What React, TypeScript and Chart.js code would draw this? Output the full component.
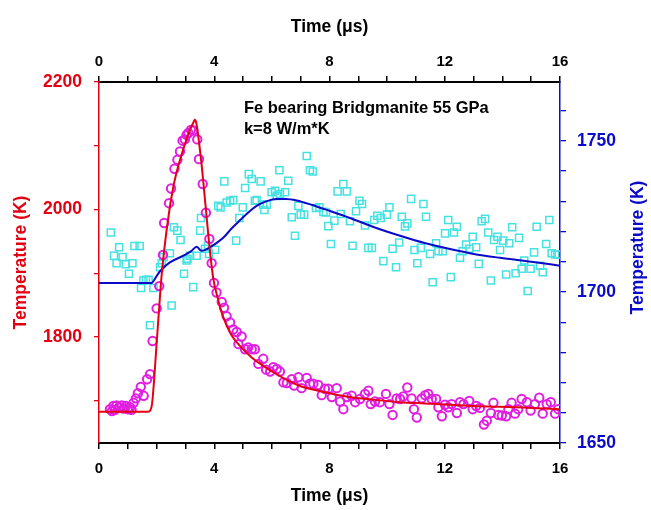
import React, { useEffect, useRef } from 'react';
import { Chart, registerables } from 'chart.js';

Chart.register(...registerables);

// Magenta circles (left axis, K)
const measTimes = [0.38,0.45,0.5,0.55,0.61,0.7,0.79,0.85,0.94,1.0,1.08,1.13,1.2,1.28,1.35,1.45,1.55,1.67,1.77,1.86,2.0,2.09,2.22,2.26,2.43,2.5,2.62,2.72,2.81,2.9,2.98,3.04,3.1,3.19,3.27,3.41,3.47,3.6,3.71,3.83,3.91,3.99,4.08,4.26,4.34,4.43,4.55,4.66,4.78,4.84,4.95,5.07,5.18,5.3,5.41,5.53,5.7,5.8,5.94,6.05,6.17,6.28,6.4,6.52,6.69,6.77,6.92,7.03,7.21,7.32,7.44,7.61,7.73,7.84,7.96,8.08,8.25,8.37,8.48,8.6,8.77,8.89,9.06,9.23,9.35,9.43,9.58,9.75,9.96,10.08,10.19,10.33,10.45,10.56,10.7,10.85,10.93,11.03,11.2,11.32,11.43,11.55,11.7,11.78,11.9,12.01,12.12,12.24,12.42,12.53,12.65,12.85,12.97,13.09,13.22,13.36,13.46,13.6,13.69,13.86,13.98,14.13,14.21,14.32,14.44,14.55,14.67,14.85,14.98,15.13,15.28,15.4,15.54,15.68,15.83,15.94];
const measValues = [1687,1684,1692,1686,1693,1690,1693,1688,1692,1687,1690,1686,1697,1704,1712,1722,1708,1734,1742,1794,1845,1880,1929,1979,2010,2033,2064,2078,2091,2108,2110,2117,2120,2125,2124,2110,2079,2040,1995,1954,1916,1885,1870,1855,1846,1833,1823,1812,1808,1789,1801,1781,1784,1781,1781,1758,1766,1749,1746,1753,1750,1746,1729,1728,1734,1724,1737,1720,1736,1727,1727,1725,1709,1719,1719,1706,1720,1699,1687,1706,1708,1698,1703,1711,1716,1695,1699,1698,1711,1695,1678,1704,1703,1707,1721,1704,1687,1674,1704,1709,1711,1703,1703,1690,1676,1694,1690,1695,1681,1698,1695,1700,1687,1692,1689,1663,1669,1681,1697,1678,1677,1676,1687,1697,1680,1687,1703,1698,1685,1695,1705,1680,1695,1698,1680,1687];

// Red fit curve (left axis, K)
const fitLeftTimes = [0,1.7,1.78,1.84,1.9,2.0,2.06,2.17,2.29,2.43,2.6,2.78,3.0,3.15,3.28,3.33,3.38,3.55,3.7,3.85,3.97,4.1,4.3,4.6,4.9,5.3,5.7,6.2,6.6,7.0,7.5,8.0,8.7,9.5,10.45,11.3,12.2,13.0,13.9,15.0,16];
const fitLeftValues = [1683,1683,1685,1695,1725,1790,1828,1895,1947,1995,2040,2073,2105,2124,2137,2141,2135,2075,2005,1935,1891,1865,1833,1803,1786,1768,1755,1741,1731,1723,1717,1712,1706,1702,1698,1696,1694,1692,1691,1689,1687];

// Cyan squares (right axis, K)
const sqTimes = [0.41,0.52,0.61,0.7,0.82,0.93,1.04,1.16,1.23,1.41,1.46,1.54,1.63,1.72,1.77,1.89,2.12,2.18,2.24,2.46,2.52,2.6,2.72,2.83,2.95,3.04,3.07,3.16,3.27,3.39,3.51,3.54,3.68,3.78,3.82,4.03,4.14,4.22,4.35,4.43,4.55,4.66,4.76,4.87,4.99,5.07,5.2,5.3,5.41,5.47,5.61,5.7,5.74,5.82,5.99,6.11,6.17,6.26,6.28,6.46,6.57,6.69,6.8,6.92,7.0,7.12,7.21,7.32,7.42,7.53,7.65,7.79,7.88,7.96,8.05,8.17,8.28,8.39,8.48,8.6,8.71,8.8,8.92,9.04,9.13,9.23,9.35,9.47,9.55,9.66,9.78,9.87,9.99,10.08,10.19,10.31,10.42,10.51,10.62,10.7,10.83,10.95,11.05,11.17,11.26,11.35,11.49,11.58,11.7,11.78,11.93,12.01,12.12,12.21,12.32,12.42,12.53,12.62,12.74,12.85,12.97,13.09,13.18,13.28,13.4,13.51,13.6,13.71,13.83,13.92,14.03,14.13,14.24,14.34,14.46,14.58,14.67,14.76,14.88,14.98,15.1,15.19,15.31,15.4,15.52,15.63,15.71,15.83,15.91];
const sqValues = [1719.7,1712,1709.5,1714.8,1711.6,1709.2,1706,1709.5,1715.2,1715.2,1701.3,1703.8,1704,1704,1689,1701.3,1708.2,1709.5,1711.6,1712.8,1695.5,1721.4,1720.3,1717.2,1706,1710.4,1711,1712,1701.6,1712,1720.3,1724.5,1714.3,1715.3,1712.6,1714,1728.5,1728,1736.6,1729.6,1730.2,1730.4,1717,1724.5,1728,1734.4,1739,1737.4,1730.2,1730.4,1736.6,1728.9,1727.1,1728.9,1733,1733.5,1731.8,1740.3,1732.4,1733,1736.8,1724.7,1718.6,1728.5,1725.6,1725.6,1745,1740.3,1739.9,1727.8,1728,1726.5,1726.3,1721.8,1715.9,1723.6,1733.3,1725.8,1735.7,1733.3,1723.4,1715.3,1726.7,1730.2,1729.1,1722,1714.6,1714.6,1723.8,1725.2,1724.5,1710.2,1725.6,1728,1714.3,1708.2,1716.4,1724.9,1721.7,1722.7,1730.8,1713.9,1709.5,1714.6,1729.1,1724.9,1712.6,1703.2,1716.1,1713.5,1713.5,1719.4,1723.8,1704.9,1719.7,1721.6,1711.3,1713.5,1715.7,1714.3,1718.3,1714.8,1709.3,1723.4,1724.2,1719.7,1703.8,1717.2,1718.3,1713.9,1717,1705.8,1716.1,1721.4,1706.2,1717.9,1707.7,1710.4,1700.3,1707.7,1713.1,1721.6,1708.7,1706.5,1715.9,1723.8,1712.8,1712.4,1712.4];

// Blue fit curve (right axis, K)
const fitRightTimes = [0,1.83,1.95,2.05,2.18,2.46,2.93,3.2,3.39,3.5,3.56,3.7,3.85,4.05,4.32,4.6,4.9,5.2,5.47,5.8,6.17,6.5,6.86,7.4,8.02,8.71,9.5,10.45,11.3,12.18,13.0,13.92,15.0,16];
const fitRightValues = [1703,1703,1704.5,1706,1707.5,1709.8,1712,1713.5,1715,1714,1713.6,1714,1714.8,1716,1718,1721,1723.8,1726.5,1728.5,1730,1730.8,1730.8,1730.3,1728.8,1726.8,1724.5,1721.6,1718.6,1716.2,1714.2,1712.6,1711.3,1710,1708.7];

const xTickValues = [0,1,2,3,4,5,6,7,8,9,10,11,12,13,14,15,16];
const xLabelValues = [0,4,8,12,16];
const leftTickValues = [1700,1800,1900,2000,2100,2200];
const leftLabelValues = [1800,2000,2200];
const rightTickValues = [1650,1660,1670,1680,1690,1700,1710,1720,1730,1740,1750,1760];
const rightLabelValues = [1650,1700,1750];

const titleText = 'Fe bearing Bridgmanite 55 GPa';
const subtitleText = 'k=8 W/m*K';
const xTitle = 'Time (\u03bcs)';
const yTitle = 'Temperature (K)';

const RED = 'rgb(228,0,18)';
const BLUE = 'rgb(10,10,200)';
const MAGENTA = 'rgb(225,30,225)';
const CYAN = 'rgb(70,225,225)';
const FONT = '"Liberation Sans", Arial, sans-serif';

const zip = (xs: number[], ys: number[]) => xs.map((x, i) => ({ x, y: ys[i] }));

export default function App() {
  const ref = useRef<HTMLCanvasElement | null>(null);
  useEffect(() => {
    if (!ref.current) return;
    const textPlugin = {
      id: 'textPlugin',
      afterDraw(chart: any) {
        const { ctx, chartArea } = chart;
        const cx = (chartArea.left + chartArea.right) / 2;
        const cy = (chartArea.top + chartArea.bottom) / 2;
        ctx.save();
        ctx.font = `bold 17.5px ${FONT}`;
        ctx.textAlign = 'center';
        ctx.textBaseline = 'middle';
        ctx.fillStyle = '#000';
        ctx.fillText(xTitle, cx, chartArea.top - 55);
        ctx.fillText(xTitle, cx, chartArea.bottom + 53);
        ctx.save();
        ctx.translate(21, cy);
        ctx.rotate(-Math.PI / 2);
        ctx.fillStyle = RED;
        ctx.fillText(yTitle, 0, 0);
        ctx.restore();
        ctx.save();
        ctx.translate(chartArea.right + 78, cy - 15);
        ctx.rotate(-Math.PI / 2);
        ctx.fillStyle = BLUE;
        ctx.fillText(yTitle, 0, 0);
        ctx.restore();
        ctx.font = `bold 16.5px ${FONT}`;
        ctx.textAlign = 'left';
        ctx.fillStyle = '#000';
        const tx = chart.scales.x.getPixelForValue(5.03);
        ctx.fillText(titleText, tx, chartArea.top + 26);
        ctx.fillText(subtitleText, tx, chartArea.top + 47);
        ctx.restore();
      },
    };

    const chart = new Chart(ref.current, {
      type: 'scatter',
      data: {
        datasets: [
          {
            type: 'line',
            label: 'fit left',
            data: zip(fitLeftTimes, fitLeftValues),
            xAxisID: 'x',
            yAxisID: 'y',
            borderColor: RED,
            borderWidth: 2,
            pointRadius: 0,
            showLine: true,
            fill: false,
            cubicInterpolationMode: 'monotone',
            order: 0,
          } as any,
          {
            type: 'line',
            label: 'fit right',
            data: zip(fitRightTimes, fitRightValues),
            xAxisID: 'x',
            yAxisID: 'y2',
            borderColor: BLUE,
            borderWidth: 2,
            pointRadius: 0,
            showLine: true,
            fill: false,
            cubicInterpolationMode: 'monotone',
            order: 1,
          } as any,
          {
            label: 'measured left',
            data: zip(measTimes, measValues),
            xAxisID: 'x',
            yAxisID: 'y',
            pointStyle: 'circle',
            pointRadius: 4.2,
            pointBorderWidth: 2,
            pointBorderColor: MAGENTA,
            pointBackgroundColor: 'rgba(0,0,0,0)',
            borderColor: MAGENTA,
            backgroundColor: 'rgba(0,0,0,0)',
            order: 2,
          } as any,
          {
            label: 'measured right',
            data: zip(sqTimes, sqValues),
            xAxisID: 'x',
            yAxisID: 'y2',
            pointStyle: 'rect',
            pointRadius: 5,
            pointBorderWidth: 1.5,
            pointBorderColor: CYAN,
            pointBackgroundColor: 'rgba(0,0,0,0)',
            borderColor: CYAN,
            backgroundColor: 'rgba(0,0,0,0)',
            order: 3,
          } as any,
        ],
      },
      options: {
        animation: false,
        responsive: false,
        maintainAspectRatio: false,
        layout: { padding: 0 },
        plugins: {
          legend: { display: false },
          tooltip: { enabled: false },
          title: { display: false },
        },
        scales: {
          x: {
            type: 'linear',
            position: 'bottom',
            min: 0,
            max: 16,
            afterFit: (s: any) => { s.height = 67; },
            afterBuildTicks: (s: any) => { s.ticks = xTickValues.map((v) => ({ value: v })); },
            grid: { drawOnChartArea: false, drawTicks: true, tickLength: 6, color: '#000', lineWidth: 1.5 },
            border: { display: true, color: '#000', width: 2 },
            ticks: {
              autoSkip: false,
              maxRotation: 0,
              padding: 11,
              color: '#000',
              font: { family: FONT, size: 15, weight: 'bold' },
              callback: (v: any) => (xLabelValues.includes(Number(v)) ? String(v) : ''),
            },
          },
          x2: {
            type: 'linear',
            position: 'top',
            min: 0,
            max: 16,
            afterFit: (s: any) => { s.height = 82; },
            afterBuildTicks: (s: any) => { s.ticks = xTickValues.map((v) => ({ value: v })); },
            grid: { drawOnChartArea: false, drawTicks: true, tickLength: 6, color: '#000', lineWidth: 1.5 },
            border: { display: true, color: '#000', width: 2 },
            ticks: {
              autoSkip: false,
              maxRotation: 0,
              padding: 5,
              color: '#000',
              font: { family: FONT, size: 15, weight: 'bold' },
              callback: (v: any) => (xLabelValues.includes(Number(v)) ? String(v) : ''),
            },
          },
          y: {
            type: 'linear',
            position: 'left',
            min: 1634,
            max: 2200,
            afterFit: (s: any) => { s.width = 99; },
            afterBuildTicks: (s: any) => { s.ticks = leftTickValues.map((v) => ({ value: v })); },
            grid: { drawOnChartArea: false, drawTicks: true, tickLength: 5, color: RED, lineWidth: 1.3 },
            border: { display: true, color: RED, width: 1.5 },
            ticks: {
              autoSkip: false,
              padding: 12,
              color: RED,
              font: { family: FONT, size: 17.5, weight: 'bold' },
              callback: (v: any) => (leftLabelValues.includes(Number(v)) ? String(v) : ''),
            },
          },
          y2: {
            type: 'linear',
            position: 'right',
            min: 1650,
            max: 1769.5,
            afterFit: (s: any) => { s.width = 91; },
            afterBuildTicks: (s: any) => { s.ticks = rightTickValues.map((v) => ({ value: v })); },
            grid: { drawOnChartArea: false, drawTicks: true, tickLength: 6, color: BLUE, lineWidth: 1.3 },
            border: { display: true, color: BLUE, width: 1.5 },
            ticks: {
              autoSkip: false,
              padding: 11,
              color: BLUE,
              font: { family: FONT, size: 17.5, weight: 'bold' },
              callback: (v: any) => (rightLabelValues.includes(Number(v)) ? String(v) : ''),
            },
          },
        },
      } as any,
      plugins: [textPlugin],
    });
    return () => chart.destroy();
  }, []);

  return (
    <div style={{ position: 'absolute', left: 0, top: 0, width: 651, height: 510, background: '#fff' }}>
      <canvas ref={ref} width={651} height={510} style={{ width: 651, height: 510, display: 'block' }} />
    </div>
  );
}
